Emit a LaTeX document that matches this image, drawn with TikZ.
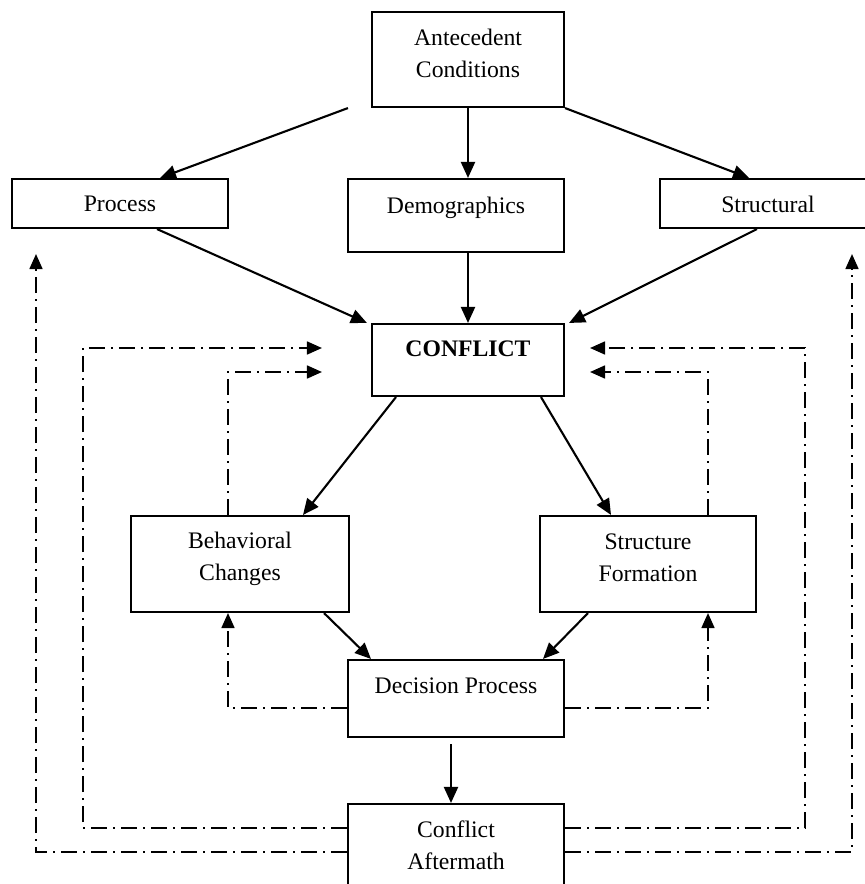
\documentclass[tikz,border=0pt]{standalone}
\usepackage{fontspec}
\setmainfont{Liberation Serif}
\usetikzlibrary{arrows.meta}
\tikzset{
  box/.style={draw, line width=2.1pt, inner sep=0pt},
  lbl/.style={align=center, inner sep=0pt, font=\fontsize{23.7}{32}\selectfont},
  arr/.style={line width=2.1pt, -{Triangle[length=16pt,width=14pt]}},
  fb/.style={line width=1.7pt, dash pattern=on 16pt off 6pt on 2pt off 6pt, -{Triangle[length=15pt,width=13pt]}},
}
\begin{document}
\begin{tikzpicture}[x=1pt,y=-1pt]
\path[use as bounding box] (0,0) rectangle (865,884);
\clip (0,0) rectangle (865,884);
\fill[white] (0,0) rectangle (865,884);
% boxes
\node[box, minimum width=192pt, minimum height=95pt] (ant) at (468,59.5) {};
\node[box, minimum width=216pt, minimum height=49pt] (proc) at (120,203.5) {};
\node[box, minimum width=216pt, minimum height=73pt] (demo) at (456,215.5) {};
\node[box, minimum width=216pt, minimum height=49pt] (struc) at (768,203.5) {};
\node[box, minimum width=192pt, minimum height=72pt] (conf) at (468,360) {};
\node[box, minimum width=218pt, minimum height=96pt] (beh) at (240,564) {};
\node[box, minimum width=216pt, minimum height=96pt] (sf) at (648,564) {};
\node[box, minimum width=216pt, minimum height=77pt] (dec) at (456,698.5) {};
\node[box, minimum width=216pt, minimum height=120pt] (aft) at (456,864) {};
% texts
\node[lbl] (antT) at (468,53) {Antecedent\\Conditions};
\node[lbl] (procT) at (120,204) {Process};
\node[lbl] (demoT) at (456,207.5) {Demographics};
\node[lbl] (strucT) at (768,204) {Structural};
\node[lbl, font=\fontsize{23.7}{32}\selectfont\bfseries] (confT) at (468,348.5) {CONFLICT};
\node[lbl] (behT) at (240,559) {Behavioral\\Changes};
\node[lbl] (sfT) at (648,558) {Structure\\Formation};
\node[lbl] (decT) at (456,686) {Decision Process};
\node[lbl] (aftT) at (456,845) {Conflict\\Aftermath};
% solid arrows
\coordinate (antL) at ([xshift=-23pt]ant.south west);
\draw[arr] (antL) -- ([xshift=40pt]proc.north);
\draw[arr] (ant.south) -- ([xshift=12pt]demo.north);
\draw[arr] (ant.south east) -- ([xshift=-19pt]struc.north);
\draw[arr] ([xshift=37pt]proc.south) -- ([xshift=-4pt]conf.north west);
\draw[arr] ([xshift=12pt]demo.south) -- (conf.north);
\draw[arr] ([xshift=-11pt]struc.south) -- ([xshift=4pt]conf.north east);
\draw[arr] ([xshift=-72pt]conf.south) -- ([xshift=63pt]beh.north);
\draw[arr] ([xshift=73pt]conf.south) -- ([xshift=-37pt]sf.north);
\draw[arr] ([xshift=84pt]beh.south) -- ([xshift=-85pt]dec.north);
\draw[arr] ([xshift=-60pt]sf.south) -- ([xshift=87pt]dec.north);
\draw[arr] ([xshift=-5pt,yshift=-6pt]dec.south) -- ([xshift=-5pt]aft.north);
% feedback (dash-dot) arrows
\draw[fb] ([xshift=-12pt]beh.north) |- ([xshift=-49pt,yshift=-12pt]conf.west);
\draw[fb] ([xshift=60pt]sf.north) |- ([xshift=25pt,yshift=-12pt]conf.east);
\draw[fb] ([yshift=36pt]aft.west) -- ++(-264,0) |- ([xshift=-49pt,yshift=12pt]conf.west);
\draw[fb] ([yshift=36pt]aft.east) -- ++(240,0) |- ([xshift=25pt,yshift=12pt]conf.east);
\draw[fb] ([yshift=-9.5pt]dec.west) -| ([xshift=-12pt]beh.south);
\draw[fb] ([yshift=-9.5pt]dec.east) -| ([xshift=60pt]sf.south);
\draw[fb] ([yshift=12pt]aft.west) -| ([xshift=-84pt,yshift=-25pt]proc.south);
\draw[fb] ([yshift=12pt]aft.east) -| ([xshift=84pt,yshift=-25pt]struc.south);
\end{tikzpicture}
\end{document}
